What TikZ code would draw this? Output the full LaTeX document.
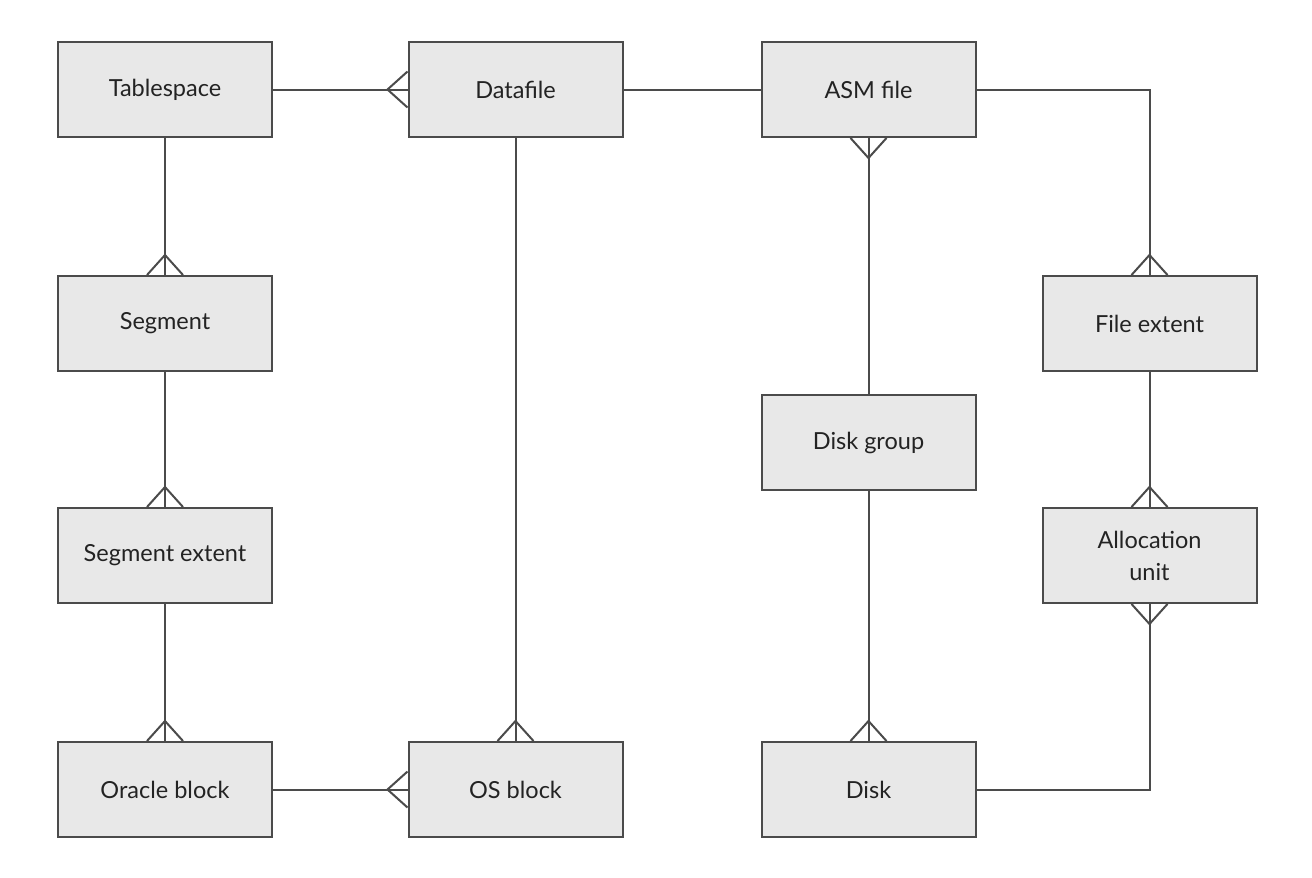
\documentclass[tikz,border=0pt]{standalone}
\usepackage{fontspec}
\setmainfont{Lato}
\usetikzlibrary{calc}
\definecolor{boxfill}{RGB}{232,232,232}
\definecolor{linecol}{RGB}{75,75,75}
\definecolor{txtcol}{RGB}{35,35,35}
\tikzset{
  entity/.style={draw=linecol, line width=2pt, fill=boxfill, minimum width=214pt, minimum height=95pt, inner sep=0pt, align=center, font=\fontsize{23.5}{32}\selectfont, text=txtcol},
  conn/.style={draw=linecol, line width=2pt}
}
\newcommand{\footN}[1]{\draw[conn] ($(#1.north)+(-18,0)$) -- ($(#1.north)+(0,-20)$) -- ($(#1.north)+(18,0)$);}
\newcommand{\footS}[1]{\draw[conn] ($(#1.south)+(-18,0)$) -- ($(#1.south)+(0,20)$) -- ($(#1.south)+(18,0)$);}
\newcommand{\footW}[1]{\draw[conn] ($(#1.west)+(0,-18)$) -- ($(#1.west)+(-20,0)$) -- ($(#1.west)+(0,18)$);}
\begin{document}
\begin{tikzpicture}[x=1pt,y=-1pt]
\useasboundingbox (0,0) rectangle (1312,878);
\fill[white] (0,0) rectangle (1312,878);
\coordinate (c1) at (1149.5,89.5);
\coordinate (c2) at (1149.5,789.5);
\node[entity] (ts) at (165,89.5) {Tablespace};
\node[entity] (df) at (515.5,89.5) {Datafile};
\node[entity] (asm) at (868.5,89.5) {ASM file};
\node[entity] (seg) at (165,323.5) {Segment};
\node[entity] (fe) at (1149.5,323.5) {File extent};
\node[entity] (dg) at (868.5,442.5) {Disk group};
\node[entity] (se) at (165,555.5) {Segment extent};
\node[entity] (au) at (1149.5,555.5) {Allocation\\unit};
\node[entity] (ob) at (165,789.5) {Oracle block};
\node[entity] (osb) at (515.5,789.5) {OS block};
\node[entity] (disk) at (868.5,789.5) {Disk};
\draw[conn] (ts.east) -- (df.west);
\draw[conn] (df.east) -- (asm.west);
\draw[conn] (ts.south) -- (seg.north);
\draw[conn] (seg.south) -- (se.north);
\draw[conn] (se.south) -- (ob.north);
\draw[conn] (ob.east) -- (osb.west);
\draw[conn] (df.south) -- (osb.north);
\draw[conn] (asm.south) -- (dg.north);
\draw[conn] (dg.south) -- (disk.north);
\draw[conn] (asm.east) -- (c1) -- (fe.north);
\draw[conn] (fe.south) -- (au.north);
\draw[conn] (au.south) -- (c2) -- (disk.east);
\footW{df}
\footN{seg}
\footN{se}
\footN{ob}
\footW{osb}
\footN{osb}
\footS{asm}
\footN{disk}
\footN{fe}
\footN{au}
\footS{au}
\end{tikzpicture}
\end{document}
